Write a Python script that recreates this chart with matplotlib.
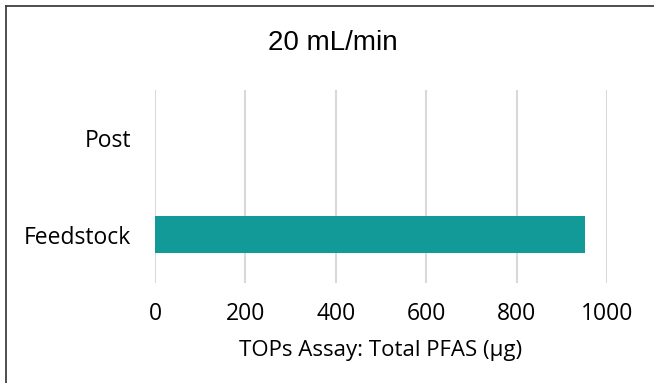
import matplotlib.pyplot as plt
from matplotlib.lines import Line2D

# ---------------- data ----------------
categories = ['Feedstock', 'Post']
values = [951, 0]
xticks = [0, 200, 400, 600, 800, 1000]

title = '20 mL/min'
xlabel = 'TOPs Assay: Total PFAS (µg)'

W, H = 654, 383
fig = plt.figure(figsize=(W / 100, H / 100), dpi=100)
ax = fig.add_axes([155 / W, 1 - 283 / H, (607 - 155) / W, (283 - 90) / H])

ax.barh(range(len(categories)), values, height=0.38, color='#129a99',
        linewidth=0, zorder=3)

ax.set_xlim(0, 1000)
ax.set_ylim(-0.5, len(categories) - 0.5)
ax.set_xticks(xticks)
ax.set_yticks(range(len(categories)))
ax.set_yticklabels(categories)

fam = ['Open Sans', 'DejaVu Sans']
for lab in ax.get_xticklabels() + ax.get_yticklabels():
    lab.set_fontfamily(fam)
    lab.set_fontsize(16.5)
ax.tick_params(axis='both', length=0)
ax.tick_params(axis='y', pad=17)
ax.tick_params(axis='x', pad=14)

ax.grid(axis='x', color='#d9d9d9', linewidth=1.5, zorder=0)
for s in ax.spines.values():
    s.set_visible(False)

ax.set_xlabel(xlabel, fontfamily=fam, fontsize=16, labelpad=10)

fig.text(333 / W, 1 - 43 / H, title, ha='center', va='center',
         fontfamily='Liberation Sans', fontsize=20)

# outer frame (left and top edges)
fig.add_artist(Line2D([6 / W, 6 / W], [0, 1 - 6 / H], color='#404040', linewidth=1.3))
fig.add_artist(Line2D([6 / W, 1], [1 - 6 / H, 1 - 6 / H], color='#404040', linewidth=1.3))

fig.savefig('out.png', dpi=100)
